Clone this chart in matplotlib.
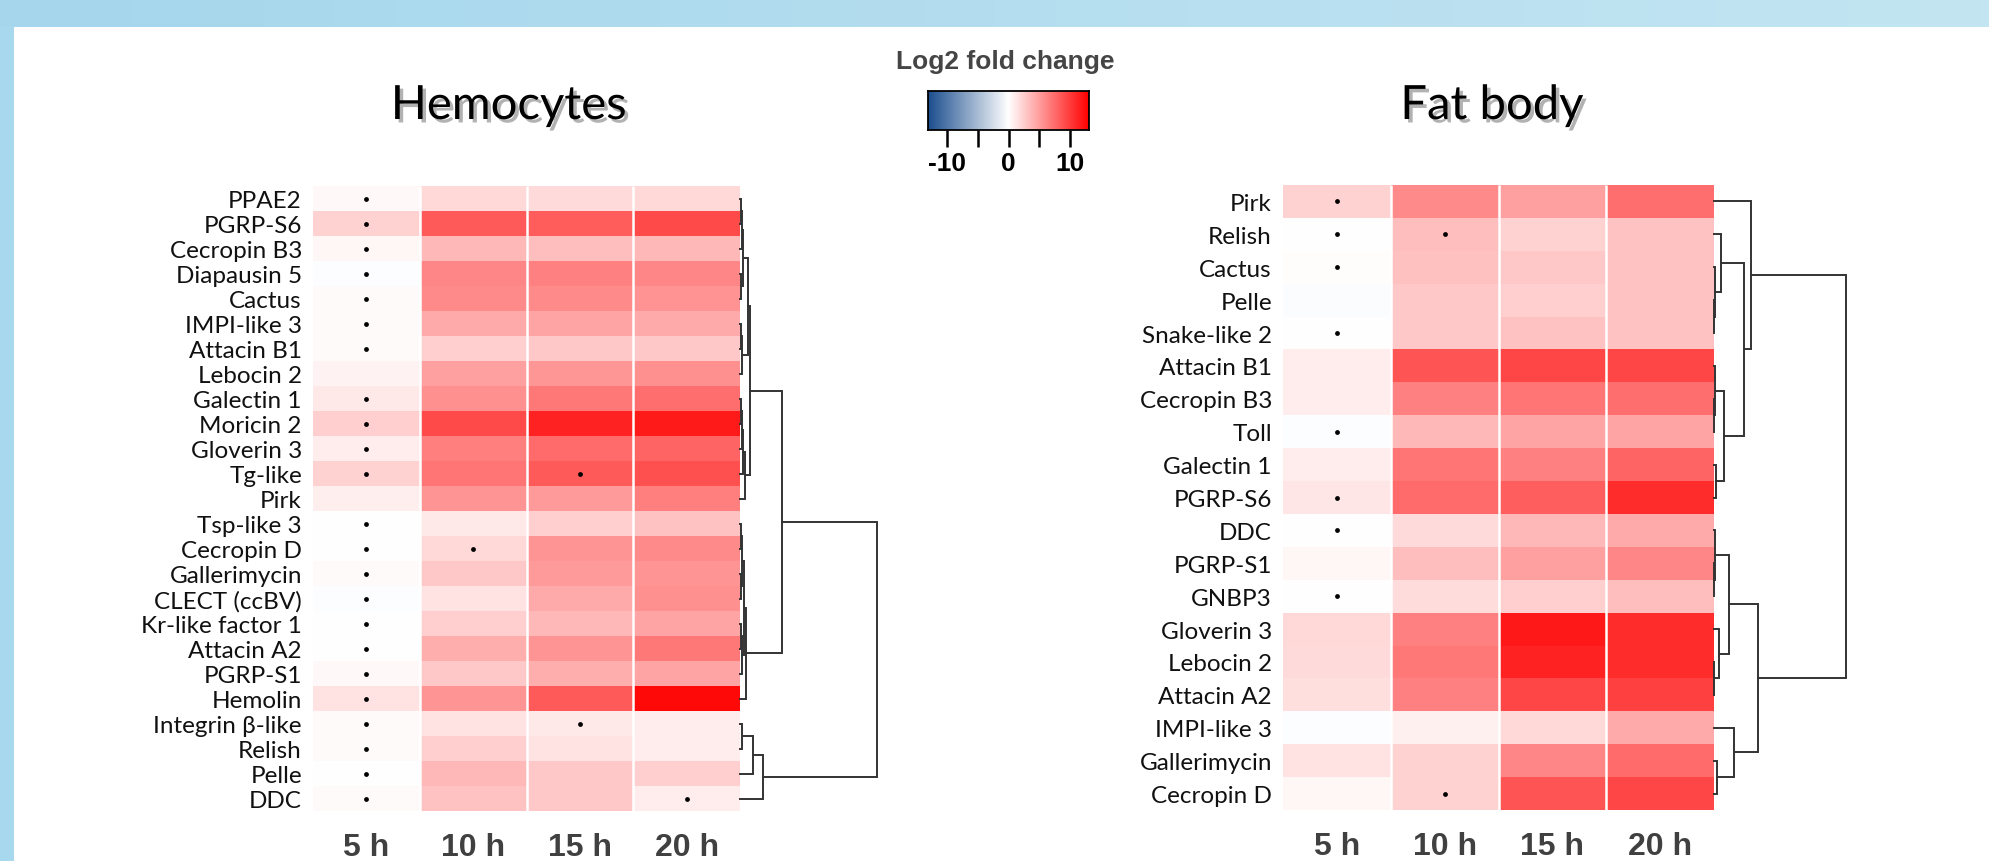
import numpy as np
import matplotlib
matplotlib.use("Agg")
import matplotlib.pyplot as plt
from matplotlib.colors import LinearSegmentedColormap
import matplotlib.patheffects as pe

plt.rcParams['font.family'] = ['Lato', 'DejaVu Sans']

W, H = 1989, 862

times = ["5 h", "10 h", "15 h", "20 h"]

# hemocytes: log2 fold change per time point
hemo_genes = ["PPAE2", "PGRP-S6", "Cecropin B3", "Diapausin 5", "Cactus", "IMPI-like 3",
              "Attacin B1", "Lebocin 2", "Galectin 1", "Moricin 2", "Gloverin 3", "Tg-like",
              "Pirk", "Tsp-like 3", "Cecropin D", "Gallerimycin", "CLECT (ccBV)",
              "Kr-like factor 1", "Attacin A2", "PGRP-S1", "Hemolin", "Integrin β-like",
              "Relish", "Pelle", "DDC"]
hemo_lfc = [
    [0.35, 2.0, 1.9, 2.0],
    [2.3, 8.4, 8.3, 9.2],
    [0.5, 3.6, 3.3, 3.6],
    [-0.2, 6.1, 6.4, 6.1],
    [0.25, 5.9, 5.9, 5.5],
    [0.25, 4.3, 4.6, 4.3],
    [0.25, 2.5, 2.8, 2.8],
    [0.7, 4.8, 5.3, 5.6],
    [1.2, 5.6, 6.9, 7.4],
    [2.5, 9.2, 11.2, 11.6],
    [1.0, 6.6, 7.6, 7.9],
    [2.3, 7.1, 8.4, 8.9],
    [0.9, 5.4, 5.1, 6.6],
    [0.0, 1.2, 2.5, 3.1],
    [0.0, 2.0, 5.4, 5.9],
    [0.25, 2.8, 5.1, 5.4],
    [-0.2, 1.5, 4.3, 5.6],
    [0.0, 2.5, 3.6, 4.6],
    [0.1, 4.1, 5.4, 6.9],
    [0.35, 2.8, 4.1, 4.6],
    [1.5, 5.4, 8.4, 12.5],
    [0.25, 1.5, 1.2, 1.0],
    [0.25, 2.5, 1.5, 1.0],
    [0.0, 3.6, 2.8, 2.5],
    [0.25, 3.1, 2.8, 1.0],
]
hemo_dots = [
    [1, 0, 0, 0], [1, 0, 0, 0], [1, 0, 0, 0], [1, 0, 0, 0], [1, 0, 0, 0],
    [1, 0, 0, 0], [1, 0, 0, 0], [0, 0, 0, 0], [1, 0, 0, 0], [1, 0, 0, 0],
    [1, 0, 0, 0], [1, 0, 1, 0], [0, 0, 0, 0], [1, 0, 0, 0], [1, 1, 0, 0],
    [1, 0, 0, 0], [1, 0, 0, 0], [1, 0, 0, 0], [1, 0, 0, 0], [1, 0, 0, 0],
    [1, 0, 0, 0], [1, 0, 1, 0], [1, 0, 0, 0], [1, 0, 0, 0], [1, 0, 0, 1],
]
# row dendrogram: (left, right, height)
hemo_tree = (
    (
        (
            ((((0, 1, 0.5), 2, 1.5), (3, 4, 1.0), 2.5), ((5, 6, 1.0), 7, 2.0), 8),
            ((((8, 9, 1.0), 10, 1.5), 11, 3.0), 12, 5.0),
            10),
        ((((13, 14, 0.5), (15, 16, 0.5), 1.5), ((17, 18, 1.0), 19, 1.5), 4.0), 20, 6.0),
        42),
    (((21, 22, 2.0), 23, 13.0), 24, 23.0),
    137)

# fat body
fat_genes = ["Pirk", "Relish", "Cactus", "Pelle", "Snake-like 2", "Attacin B1", "Cecropin B3",
             "Toll", "Galectin 1", "PGRP-S6", "DDC", "PGRP-S1", "GNBP3", "Gloverin 3",
             "Lebocin 2", "Attacin A2", "IMPI-like 3", "Gallerimycin", "Cecropin D"]
fat_lfc = [
    [2.3, 5.9, 4.8, 7.4],
    [0.0, 3.3, 2.3, 3.1],
    [0.15, 3.2, 2.8, 3.1],
    [-0.3, 2.8, 2.5, 3.1],
    [0.0, 2.8, 3.1, 3.1],
    [1.0, 8.7, 9.4, 9.4],
    [1.0, 6.4, 7.1, 7.4],
    [-0.15, 3.6, 4.6, 4.6],
    [1.0, 7.1, 6.4, 7.9],
    [1.3, 7.6, 8.2, 10.7],
    [0.0, 1.9, 3.6, 4.3],
    [0.5, 3.3, 4.8, 6.1],
    [0.0, 1.8, 2.5, 3.3],
    [2.0, 6.4, 11.7, 10.7],
    [1.9, 6.9, 11.2, 10.7],
    [1.7, 6.4, 9.4, 9.7],
    [-0.15, 0.8, 2.0, 4.3],
    [1.5, 2.3, 6.1, 7.6],
    [0.5, 2.3, 8.7, 9.4],
]
fat_dots = [
    [1, 0, 0, 0], [1, 1, 0, 0], [1, 0, 0, 0], [0, 0, 0, 0], [1, 0, 0, 0],
    [0, 0, 0, 0], [0, 0, 0, 0], [1, 0, 0, 0], [0, 0, 0, 0], [1, 0, 0, 0],
    [1, 0, 0, 0], [0, 0, 0, 0], [1, 0, 0, 0], [0, 0, 0, 0], [0, 0, 0, 0],
    [0, 0, 0, 0], [0, 0, 0, 0], [0, 0, 0, 0], [0, 1, 0, 0],
]
fat_tree = (
    (0, ((1, (2, (3, 4, 0.3), 0.6), 7), ((5, (6, 7, 0.3), 0.6), (8, 9, 2.0), 10), 30), 37),
    (((10, (11, 12, 0.3), 0.6), (13, (14, 15, 0.3), 5), 15), (16, (17, 18, 3), 20), 44),
    132)

cmap = LinearSegmentedColormap.from_list("lfc", ["#1B4E8E", "#FFFFFF", "#FF0000"])
vlim = 13


def px(x0, y0, x1, y1):
    return [x0 / W, 1 - y1 / H, (x1 - x0) / W, (y1 - y0) / H]


def draw_tree(ax, node):
    if isinstance(node, int):
        return node + 0.5, 0.0
    left, right, h = node
    y1, h1 = draw_tree(ax, left)
    y2, h2 = draw_tree(ax, right)
    ax.plot([h1, h, h, h2], [y1, y1, y2, y2], color="#333333", lw=1.4,
            clip_on=False, solid_joinstyle="miter")
    return (y1 + y2) / 2, h


def panel(heat_box, dend_box, genes, lfc, dots, tree):
    n = len(genes)
    ax = fig.add_axes(px(*heat_box))
    vals = np.array(lfc)
    ax.pcolormesh(np.arange(5), np.arange(n + 1), vals, cmap=cmap, vmin=-vlim, vmax=vlim)
    ax.vlines([1, 2, 3], 0, n, color="white", lw=1.8)
    d = np.array(dots)
    rr, cc = np.nonzero(d)
    ax.scatter(cc + 0.5, rr + 0.5, s=12, color="black", zorder=3, linewidths=0)
    ax.set_xlim(0, 4)
    ax.set_ylim(n, 0)
    for s in ax.spines.values():
        s.set_visible(False)
    ax.set_yticks(np.arange(n) + 0.5)
    ax.set_yticklabels(genes, fontsize=17.5, color="#111111")
    ax.set_xticks(np.arange(4) + 0.5)
    ax.set_xticklabels(times, fontsize=23, fontweight="bold", color="#404040",
                       family="Liberation Sans")
    ax.tick_params(length=0)
    ax.tick_params(axis="y", pad=8)
    ax.tick_params(axis="x", pad=15)

    dx = fig.add_axes(px(*dend_box))
    draw_tree(dx, tree)
    dx.set_xlim(0, dend_box[2] - dend_box[0])
    dx.set_ylim(n, 0)
    dx.axis("off")


fig = plt.figure(figsize=(W / 100, H / 100), dpi=100)

# blue frame (top band + left strip)
band = fig.add_axes([0, 1 - 28 / H, 1, 28 / H])
band.imshow(np.linspace(0, 1, 256)[None, :], aspect="auto", extent=(0, 1, 0, 1),
            cmap=LinearSegmentedColormap.from_list("bg", ["#A5D6EC", "#C3E5F2"]))
band.axis("off")
strip = fig.add_axes([0, 0, 14 / W, 1 - 28 / H])
strip.set_facecolor("#A8D8EE")
strip.set_xticks([])
strip.set_yticks([])
for s in strip.spines.values():
    s.set_visible(False)

panel((313, 187, 740, 812), (740, 187, 880, 812), hemo_genes, hemo_lfc, hemo_dots, hemo_tree)
panel((1283, 186, 1714, 811), (1714, 186, 1850, 811), fat_genes, fat_lfc, fat_dots, fat_tree)

shadow = [pe.withSimplePatchShadow(offset=(2.5, -2.5), shadow_rgbFace="#666666", alpha=0.5)]
fig.text(509 / W, 1 - 120 / H, "Hemocytes", fontsize=34, ha="center", va="baseline",
         path_effects=shadow)
fig.text(1492 / W, 1 - 120 / H, "Fat body", fontsize=34, ha="center", va="baseline",
         path_effects=shadow)

# colour key
fig.text(1005 / W, 1 - 69 / H, "Log2 fold change", fontsize=19, fontweight="bold",
         color="#454545", ha="center", va="baseline", family="Liberation Sans")
cb = fig.add_axes(px(928, 92, 1089, 131))
cb.imshow(np.linspace(-vlim, vlim, 256)[None, :], aspect="auto", cmap=cmap,
          extent=(-vlim, vlim, 0, 1), vmin=-vlim, vmax=vlim)
cb.set_xlim(-vlim, vlim)
cb.set_yticks([])
cb.set_xticks([-10, -5, 0, 5, 10])
cb.set_xticklabels(["-10", "", "0", "", "10"], fontsize=19, fontweight="bold",
                   family="Liberation Sans")
cb.tick_params(axis="x", length=12, width=1.8, pad=3)
for s in cb.spines.values():
    s.set_linewidth(1.3)

fig.savefig("out.png", dpi=100)
